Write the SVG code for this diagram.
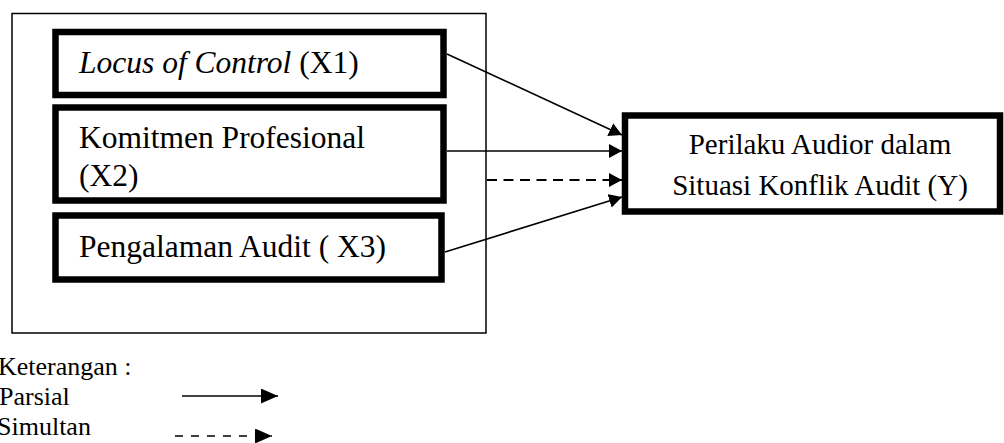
<svg xmlns="http://www.w3.org/2000/svg" width="1004" height="443" viewBox="0 0 1004 443">
  <style>
    .t { font-family: "Liberation Serif", "Times New Roman", serif; fill: #000; }
    .box { fill: #fff; stroke: #000; stroke-width: 6.5; }
    .conn { stroke: #000; stroke-width: 1.6; fill: none; }
    .dash { stroke-width: 2.2; stroke-dasharray: 10 6.5; }
  </style>
  <defs>
    <marker id="ah" markerUnits="userSpaceOnUse" markerWidth="13" markerHeight="14" refX="13" refY="7" orient="auto">
      <path d="M0,0 L13,7 L0,14 Z" fill="#000"/>
    </marker>
    <marker id="ahL" markerUnits="userSpaceOnUse" markerWidth="17" markerHeight="15" refX="17" refY="7.5" orient="auto">
      <path d="M0,0 L17,7.5 L0,15 Z" fill="#000"/>
    </marker>
  </defs>
  <rect width="1004" height="443" fill="#fff"/>
  <g id="outer">
    <rect x="12" y="13.5" width="474" height="319.5" fill="none" stroke="#000" stroke-width="1.5"/>
  </g>
  <g id="x1">
    <rect class="box" x="55.5" y="32" width="388" height="63"/>
    <text class="t" x="79" y="72.5" font-size="31.5"><tspan font-style="italic">Locus of Control</tspan> (X1)</text>
  </g>
  <g id="x2">
    <rect class="box" x="55.5" y="107.5" width="388" height="93"/>
    <text class="t" x="79" y="148" font-size="31.5">Komitmen Profesional</text>
    <text class="t" x="79" y="186" font-size="31.5">(X2)</text>
  </g>
  <g id="x3">
    <rect class="box" x="55.5" y="215.5" width="386" height="64"/>
    <text class="t" x="79" y="256.5" font-size="31.5">Pengalaman Audit ( X3)</text>
  </g>
  <g id="y">
    <rect class="box" x="625" y="115.5" width="375" height="96"/>
    <text class="t" x="820" y="153.5" font-size="29" text-anchor="middle">Perilaku Audior dalam</text>
    <text class="t" x="820" y="195" font-size="29" text-anchor="middle">Situasi Konflik Audit (Y)</text>
  </g>
  <g id="connectors">
    <line class="conn" x1="447" y1="54" x2="622" y2="135" marker-end="url(#ah)"/>
    <line class="conn" x1="447" y1="151" x2="622" y2="151" marker-end="url(#ah)"/>
    <line class="conn dash" x1="487" y1="180" x2="622" y2="180" marker-end="url(#ah)"/>
    <line class="conn" x1="445" y1="252" x2="622" y2="197" marker-end="url(#ah)"/>
  </g>
  <g id="legend">
    <text class="t" x="-2" y="375" font-size="26">Keterangan :</text>
    <text class="t" x="-1" y="404.5" font-size="26">Parsial</text>
    <text class="t" x="-3" y="435" font-size="26">Simultan</text>
    <line class="conn" x1="182" y1="396" x2="278" y2="396" marker-end="url(#ahL)"/>
    <line class="conn" x1="175" y1="436" x2="272" y2="436" stroke-width="2.4" stroke-dasharray="8 8" marker-end="url(#ahL)"/>
  </g>
</svg>
